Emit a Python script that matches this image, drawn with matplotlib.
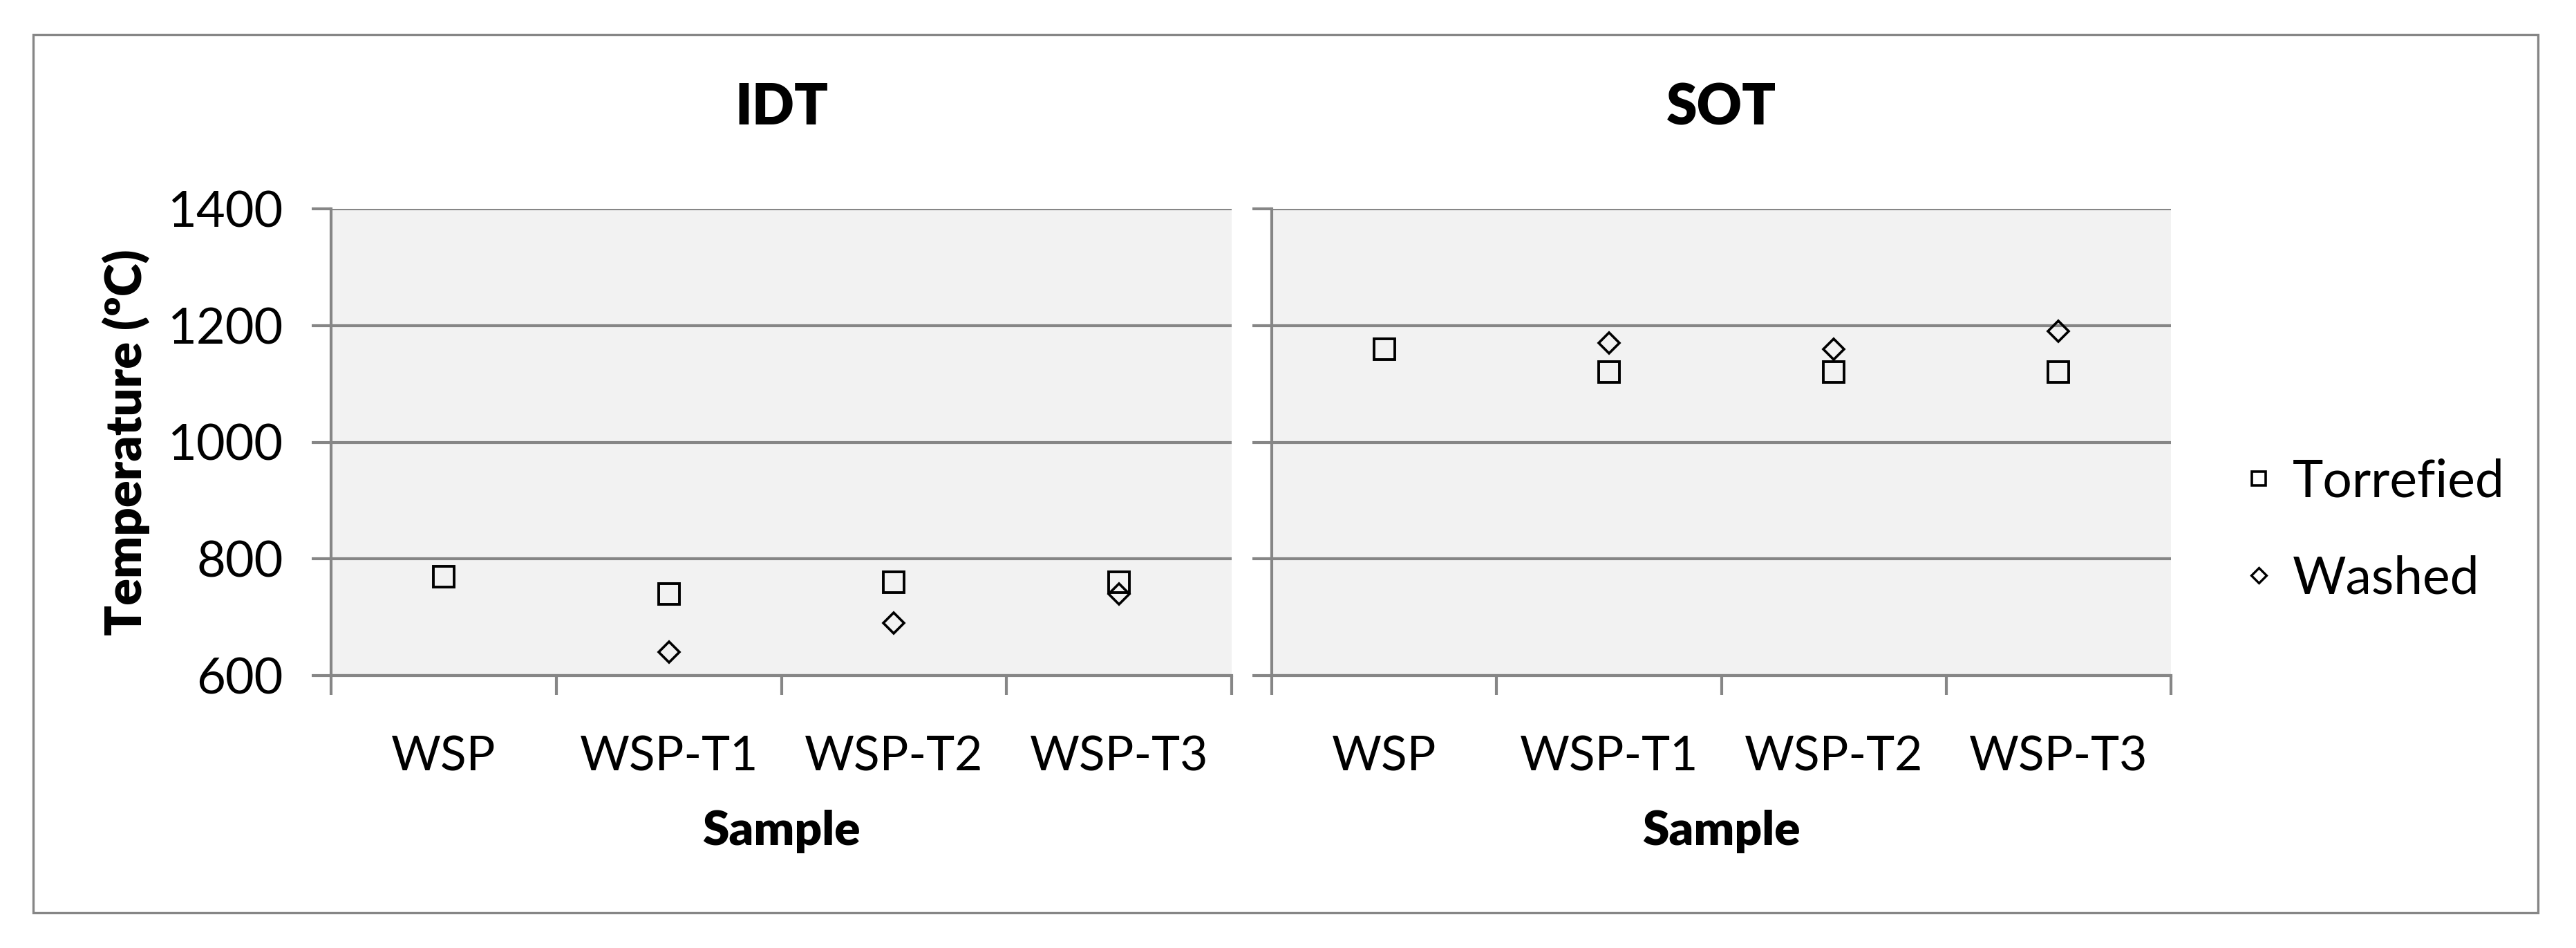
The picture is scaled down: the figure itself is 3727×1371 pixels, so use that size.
import matplotlib
matplotlib.use("Agg")
import matplotlib.pyplot as plt
from matplotlib.lines import Line2D
from matplotlib.patches import Rectangle

plt.rcParams['font.family'] = ['Lato', 'DejaVu Sans']

samples = ['WSP', 'WSP-T1', 'WSP-T2', 'WSP-T3']
panels = ['IDT', 'SOT']
# torrefied has a value for all four samples, washed has none for raw WSP
idt_torrefied = [770, 740, 760, 760]
idt_washed = [None, 640, 690, 740]
sot_torrefied = [1160, 1120, 1120, 1120]
sot_washed = [None, 1170, 1160, 1190]
y_ticks = [600, 800, 1000, 1200, 1400]

W, H = 3727, 1371
grey = '#868686'

fig = plt.figure(figsize=(W / 100, H / 100), dpi=100)
fig.patches.append(Rectangle((48 / W, 1 - 1320 / H), 3624 / W, 1270 / H,
                             transform=fig.transFigure, fill=False,
                             edgecolor=grey, linewidth=2.4))

boxes = [(479, 1782), (1840, 3141)]
data = [(idt_torrefied, idt_washed), (sot_torrefied, sot_washed)]

for i, (x0, x1) in enumerate(boxes):
    ax = fig.add_axes([x0 / W, 1 - 977 / H, (x1 - x0) / W, 675 / H])
    ax.set_facecolor('#f2f2f2')
    tor, wash = data[i]
    xs = range(len(samples))
    ax.plot(xs, tor, ls='none', marker='s', ms=21, mfc='none', mec='black', mew=2.8)
    wx = [x for x, v in zip(xs, wash) if v is not None]
    wv = [v for v in wash if v is not None]
    ax.plot(wx, wv, ls='none', marker='D', ms=15, mfc='none', mec='black', mew=2.6)

    ax.set_xlim(-0.5, len(samples) - 0.5)
    ax.set_ylim(y_ticks[0], y_ticks[-1])
    ax.set_yticks(y_ticks)
    ax.yaxis.grid(True, color=grey, linewidth=3)
    ax.set_axisbelow(True)
    for s in ['top', 'right']:
        ax.spines[s].set_visible(False)
    for s in ['left', 'bottom']:
        ax.spines[s].set_color(grey)
        ax.spines[s].set_linewidth(3)

    ax.set_xticks(list(xs))
    ax.set_xticklabels(samples)
    ax.set_xticks([x - 0.5 for x in range(len(samples) + 1)], minor=True)
    ax.tick_params(axis='x', which='major', length=0, pad=62, labelsize=50)
    ax.tick_params(axis='x', which='minor', length=20, width=3, color=grey, direction='out')
    ax.tick_params(axis='y', length=20, width=3, color=grey, direction='out',
                   pad=30, labelsize=52)
    if i > 0:
        ax.set_yticklabels([])
    else:
        ax.set_ylabel('Temperature (ºC)', fontsize=52, fontweight='heavy', labelpad=18)

    cx = (x0 + x1) / 2 / W
    fig.text(cx, 1 - 157 / H, panels[i], ha='center', va='center',
             fontsize=58, fontweight='heavy')
    fig.text(cx, 1 - 1202 / H, 'Sample', ha='center', va='center',
             fontsize=50, fontweight='heavy')

handles = [Line2D([], [], ls='none', marker='s', ms=15, mfc='none', mec='black', mew=2.6),
           Line2D([], [], ls='none', marker='D', ms=11, mfc='none', mec='black', mew=2.4)]
fig.legend(handles, ['Torrefied', 'Washed'], loc='center left',
           bbox_to_anchor=(3178 / W, 1 - 767 / H), frameon=False,
           fontsize=54, handlelength=0.6, handletextpad=0.35, labelspacing=0.95)

fig.savefig('out.png', dpi=100)
